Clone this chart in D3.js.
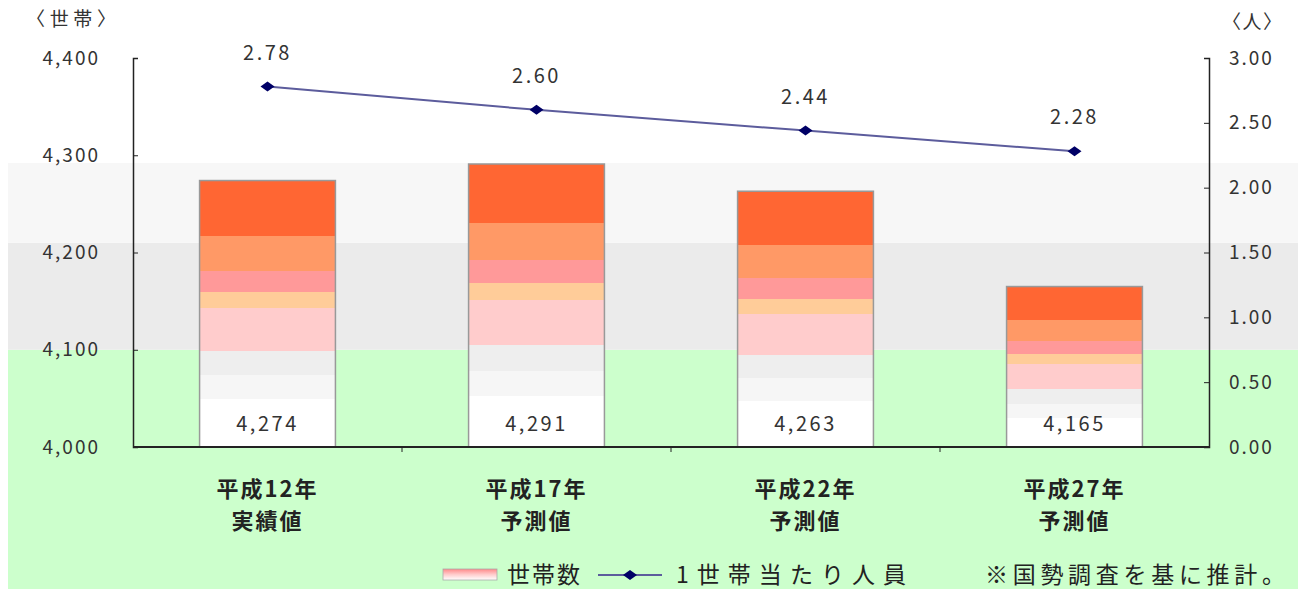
<!DOCTYPE html>
<html>
<head>
<meta charset="utf-8">
<script src="https://cdn.jsdelivr.net/npm/d3@7"></script>
<style>
  body { margin: 0; background: #fff; }
  svg text { font-family: "Noto Sans CJK JP", "DejaVu Sans", sans-serif; }
</style>
</head>
<body>
<svg id="svg" width="1298" height="589"></svg>
<script>
// data
let categories = [["平成12年", "実績値"], ["平成17年", "予測値"], ["平成22年", "予測値"], ["平成27年", "予測値"]];
let households = [4274, 4291, 4263, 4165];
let perHousehold = [2.78, 2.60, 2.44, 2.28];
let leftTicks = [4000, 4100, 4200, 4300, 4400];
let rightTicks = [0, 0.5, 1, 1.5, 2, 2.5, 3];
// background bands (in household units): [from, to, colour]
let bgBands = [[3960, 4100, "#ccffcc"], [4100, 4210, "#ebebeb"], [4210, 4292, "#f7f7f7"]];

let svg = d3.select("svg");
let margin = {top: 58, right: 89, bottom: 142, left: 133};
let width = 1298 - margin.left - margin.right;
let height = 589 - margin.top - margin.bottom;

// gradient for the bars (hard stops)
let defs = svg.append("defs");
let stripes = [
  [0, "#ff6633"], [0.21, "#ff9966"], [0.34, "#ff9999"], [0.42, "#ffcc99"],
  [0.48, "#ffcccc"], [0.64, "#eeeeee"], [0.73, "#f6f6f6"], [0.82, "#ffffff"]
];
let grad = defs.append("linearGradient").attr("id", "barGrad")
  .attr("x1", 0).attr("y1", 0).attr("x2", 0).attr("y2", 1);
stripes.forEach((s, i) => {
  let end = i < stripes.length - 1 ? stripes[i + 1][0] : 1;
  grad.append("stop").attr("offset", s[0]).attr("stop-color", s[1]);
  grad.append("stop").attr("offset", end).attr("stop-color", s[1]);
});
let lg = defs.append("linearGradient").attr("id", "legGrad")
  .attr("x1", 0).attr("y1", 0).attr("x2", 0).attr("y2", 1);
lg.append("stop").attr("offset", 0).attr("stop-color", "#ff8888");
lg.append("stop").attr("offset", 0.5).attr("stop-color", "#ffcccc");
lg.append("stop").attr("offset", 1).attr("stop-color", "#ffffff");

let x = d3.scaleBand().domain(d3.range(categories.length)).range([0, width]).paddingInner(0.495).paddingOuter(0.2475);
let y = d3.scaleLinear().domain([4000, 4400]).range([height, 0]);
let y2 = d3.scaleLinear().domain([0, 3]).range([height, 0]);

// wide diamond marker
let diamond = "M-7,0L0,-5L7,0L0,5Z";

// background bands
svg.selectAll("rect.bg")
  .data(bgBands)
  .enter().append("rect")
    .attr("x", 8)
    .attr("width", 1298 - 8)
    .attr("y", d => margin.top + y(d[1]))
    .attr("height", d => d[0] == 3960 ? 589 - (margin.top + y(d[1])) : y(d[0]) - y(d[1]))
    .attr("fill", d => d[2]);

let g = svg.append("g").attr("transform", "translate(" + margin.left + "," + margin.top + ")");

// bars
g.selectAll("rect.bar")
  .data(households)
  .enter().append("rect")
    .attr("x", (d, i) => x(i))
    .attr("y", d => y(d))
    .attr("width", x.bandwidth())
    .attr("height", d => height - y(d))
    .attr("fill", "url(#barGrad)")
    .attr("stroke", "#999")
    .attr("stroke-width", 1.5);

g.selectAll("text.barval")
  .data(households)
  .enter().append("text")
    .attr("x", (d, i) => x(i) + x.bandwidth() / 2)
    .attr("y", height - 16)
    .attr("text-anchor", "middle")
    .attr("font-size", 20)
    .attr("letter-spacing", 2.5)
    .attr("fill", "#333")
    .text(d => d3.format(",")(d));

// axes
let left = g.append("g")
  .call(d3.axisLeft(y).tickValues(leftTicks).tickFormat(d3.format(",")).tickSize(-5).tickPadding(33));
left.select(".domain").attr("stroke", "#222").attr("stroke-width", 1.5);
left.selectAll(".tick line").attr("stroke", "#222");
left.selectAll("text").attr("font-size", 19).attr("letter-spacing", 2).attr("fill", "#333")
  .style("font-family", "'Noto Sans CJK JP', sans-serif");

let right = g.append("g").attr("transform", "translate(" + width + ",0)")
  .call(d3.axisRight(y2).tickValues(rightTicks).tickFormat(d3.format(".2f")).tickSize(-5).tickPadding(20));
right.select(".domain").attr("stroke", "#222").attr("stroke-width", 1.5);
right.selectAll(".tick line").attr("stroke", "#222");
right.selectAll("text").attr("font-size", 19).attr("letter-spacing", 2).attr("fill", "#333")
  .style("font-family", "'Noto Sans CJK JP', sans-serif");

// bottom line with ticks at band boundaries
g.append("line").attr("x1", 0).attr("x2", width).attr("y1", height).attr("y2", height)
  .attr("stroke", "#222").attr("stroke-width", 2);
g.selectAll("line.btick")
  .data(d3.range(1, categories.length))
  .enter().append("line")
    .attr("x1", d => x(d) - x.step() * x.paddingInner() / 2)
    .attr("x2", d => x(d) - x.step() * x.paddingInner() / 2)
    .attr("y1", height).attr("y2", height + 5)
    .attr("stroke", "#222");

// category labels
categories.forEach((c, i) => {
  c.forEach((t, j) => {
    g.append("text")
      .attr("x", x(i) + x.bandwidth() / 2)
      .attr("y", height + 50 + j * 32)
      .attr("text-anchor", "middle")
      .attr("font-size", 22)
      .attr("letter-spacing", 2)
      .attr("font-weight", "bold")
      .attr("fill", "#222")
      .text(t);
  });
});

// line series
let line = d3.line()
  .x((d, i) => x(i) + x.bandwidth() / 2)
  .y(d => y2(d));
g.append("path")
  .datum(perHousehold)
  .attr("fill", "none")
  .attr("stroke", "#5c5c9c")
  .attr("stroke-width", 2)
  .attr("d", line);
g.selectAll("path.dot")
  .data(perHousehold)
  .enter().append("path")
    .attr("d", diamond)
    .attr("transform", (d, i) => "translate(" + (x(i) + x.bandwidth() / 2) + "," + y2(d) + ")")
    .attr("fill", "#000066");
g.selectAll("text.lv")
  .data(perHousehold)
  .enter().append("text")
    .attr("x", (d, i) => x(i) + x.bandwidth() / 2)
    .attr("y", d => y2(d) - 27)
    .attr("text-anchor", "middle")
    .attr("font-size", 20)
    .attr("letter-spacing", 2.5)
    .attr("fill", "#333")
    .text(d => d.toFixed(2));

// unit labels
svg.append("text").attr("x", 26).attr("y", 26).attr("font-size", 19)
  .attr("textLength", 90).attr("lengthAdjust", "spacing").attr("fill", "#333").text("〈世帯〉");
svg.append("text").attr("x", 1222).attr("y", 29).attr("font-size", 19)
  .attr("textLength", 60).attr("lengthAdjust", "spacing").attr("fill", "#333").text("〈人〉");

// legend
let ly = 575;
svg.append("rect").attr("x", 443).attr("y", ly - 6).attr("width", 54).attr("height", 11)
  .attr("fill", "url(#legGrad)").attr("stroke", "#aaa").attr("stroke-width", 0.8);
svg.append("text").attr("x", 507).attr("y", ly + 8).attr("font-size", 23)
  .attr("textLength", 73).attr("lengthAdjust", "spacing").attr("fill", "#222").text("世帯数");
svg.append("line").attr("x1", 598).attr("x2", 662).attr("y1", ly).attr("y2", ly)
  .attr("stroke", "#5c5c9c").attr("stroke-width", 2);
svg.append("path").attr("d", diamond)
  .attr("transform", "translate(630," + ly + ")").attr("fill", "#000066");
svg.append("text").attr("x", 676).attr("y", ly + 8).attr("font-size", 23)
  .attr("textLength", 230).attr("lengthAdjust", "spacing").attr("fill", "#222").text("1世帯当たり人員");
svg.append("text").attr("x", 985).attr("y", ly + 8).attr("font-size", 23)
  .attr("textLength", 300).attr("lengthAdjust", "spacing").attr("fill", "#222").text("※国勢調査を基に推計。");
</script>
</body>
</html>
